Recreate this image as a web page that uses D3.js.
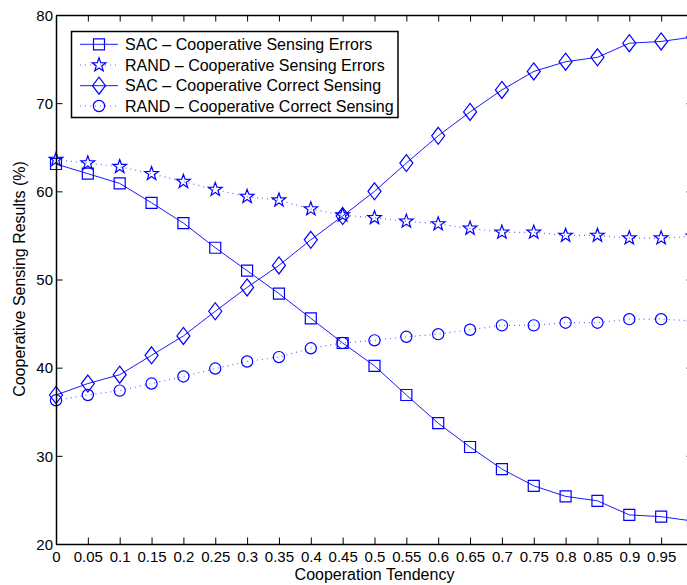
<!DOCTYPE html>
<html><head><meta charset="utf-8">
<script src="https://cdn.jsdelivr.net/npm/d3@7"></script>
<style>
html,body{margin:0;padding:0;background:#fff;overflow:hidden;}
text{font-family:"Liberation Sans",Arial,Helvetica,sans-serif;fill:#000;}
</style></head>
<body>
<svg id="chart" width="687" height="585"></svg>
<script>
const xValues = [0,0.05,0.1,0.15,0.2,0.25,0.3,0.35,0.4,0.45,0.5,0.55,0.6,0.65,0.7,0.75,0.8,0.85,0.9,0.95,1.0];
const sacErrors   = [63.1,62.0,60.9,58.7,56.4,53.6,51.0,48.4,45.6,42.8,40.2,36.9,33.7,31.0,28.5,26.6,25.4,24.9,23.3,23.1,22.6];
const randErrors  = [63.6,63.2,62.8,62.0,61.1,60.2,59.4,59.0,58.0,57.3,57.0,56.6,56.3,55.8,55.35,55.35,55.0,55.0,54.7,54.7,54.9];
const sacCorrect  = [36.9,38.2,39.2,41.4,43.6,46.4,49.1,51.6,54.5,57.2,60.0,63.2,66.3,69.0,71.5,73.6,74.7,75.2,76.8,77.0,77.5];
const randCorrect = [36.3,36.9,37.4,38.2,39.0,39.9,40.7,41.2,42.2,42.8,43.1,43.5,43.8,44.3,44.8,44.8,45.1,45.1,45.5,45.5,45.3];
const seriesNames = ["SAC \u2013 Cooperative Sensing Errors","RAND \u2013 Cooperative Sensing Errors","SAC \u2013 Cooperative Correct Sensing","RAND \u2013 Cooperative Correct Sensing"];
const xTicks = [0,0.05,0.1,0.15,0.2,0.25,0.3,0.35,0.4,0.45,0.5,0.55,0.6,0.65,0.7,0.75,0.8,0.85,0.9,0.95,1];
const xTickLabels = ["0","0.05","0.1","0.15","0.2","0.25","0.3","0.35","0.4","0.45","0.5","0.55","0.6","0.65","0.7","0.75","0.8","0.85","0.9","0.95",""];
const yTicks = [20,30,40,50,60,70,80];
const xLabel = "Cooperation Tendency";
const yLabel = "Cooperative Sensing Results (%)";

const svg = d3.select("#chart");
const L = 56, R = 693, T = 15, B = 544;
const x = d3.scaleLinear().domain([0,1]).range([L,R]);
const y = d3.scaleLinear().domain([20,80]).range([B,T]);
const blue = "#0000ff";

function markerPath(kind){
  if(kind==="square"){ const s=5.5; return `M${-s},${-s}H${s}V${s}H${-s}Z`; }
  if(kind==="circle"){ const r=5.6; return `M${r},0A${r},${r} 0 1,1 ${-r},0A${r},${r} 0 1,1 ${r},0Z`; }
  if(kind==="diamond"){ return "M0,-8.5L6.5,0L0,8.5L-6.5,0Z"; }
  if(kind==="star"){
    const ro=7.2, ri=2.9; let p="";
    for(let i=0;i<10;i++){ const r=i%2?ri:ro; const a=-Math.PI/2+i*Math.PI/5; p+=(i?"L":"M")+(r*Math.cos(a)).toFixed(2)+","+(r*Math.sin(a)).toFixed(2);} return p+"Z";
  }
}

const series = [
  {name:seriesNames[0], vals:sacErrors, dash:null, marker:"square"},
  {name:seriesNames[1], vals:randErrors, dash:"1,4", marker:"star"},
  {name:seriesNames[2], vals:sacCorrect, dash:null, marker:"diamond"},
  {name:seriesNames[3], vals:randCorrect, dash:"1,4", marker:"circle"}
];

const line = d3.line().x((d,i)=>x(xValues[i])).y(d=>y(d));
series.forEach(s=>{
  svg.append("path").attr("d",line(s.vals)).attr("fill","none").attr("stroke",blue)
    .attr("stroke-width",s.dash?1.2:1).attr("stroke-dasharray",s.dash)
    .attr("stroke-opacity",s.dash?0.6:0.9);
  svg.append("g").selectAll("path").data(s.vals).join("path")
    .attr("transform",(d,i)=>`translate(${x(xValues[i])},${y(d)})`)
    .attr("d",markerPath(s.marker)).attr("fill","none").attr("stroke",blue).attr("stroke-width",1.2);
});

const xAxisB = svg.append("g").attr("transform",`translate(0,${B})`)
  .call(d3.axisBottom(x).tickValues(xTicks).tickSizeInner(-6.5).tickSizeOuter(0).tickPadding(7).tickFormat((d,i)=>xTickLabels[i]));
const xAxisT = svg.append("g").attr("transform",`translate(0,${T})`)
  .call(d3.axisTop(x).tickValues(xTicks).tickSizeInner(-6.5).tickSizeOuter(0).tickFormat(""));
const yAxisL = svg.append("g").attr("transform",`translate(${L},0)`)
  .call(d3.axisLeft(y).tickValues(yTicks).tickSizeInner(-6.5).tickSizeOuter(0).tickPadding(3));
const yAxisR = svg.append("g").attr("transform",`translate(${R},0)`)
  .call(d3.axisRight(y).tickValues(yTicks).tickSizeInner(-6.5).tickSizeOuter(0).tickFormat(""));
[xAxisB,xAxisT,yAxisL,yAxisR].forEach(g=>{
  g.select(".domain").attr("stroke","#000").attr("stroke-width",1.5);
  g.selectAll(".tick line").attr("stroke","#000").attr("stroke-width",1);
  g.selectAll("text").style("font-family","'Liberation Sans',Arial,sans-serif").style("font-size","15px").attr("fill","#000");
});
yAxisL.selectAll("text").attr("dy","0.35em");

svg.append("text").attr("x",(L+R)/2).attr("y",580).attr("text-anchor","middle").style("font-size","16px").text(xLabel);
svg.append("text").attr("transform","translate(25,279) rotate(-90)").attr("text-anchor","middle").style("font-size","16px").text(yLabel);

const lg = svg.append("g");
lg.append("rect").attr("x",71.5).attr("y",31.5).attr("width",326.5).attr("height",86).attr("fill","#fff").attr("stroke","#000").attr("stroke-width",1.5);
const rowY = [44.3,65,85.7,106];
series.forEach((s,i)=>{
  lg.append("line").attr("x1",80).attr("x2",118).attr("y1",rowY[i]).attr("y2",rowY[i])
    .attr("stroke",blue).attr("stroke-width",s.dash?1.2:1).attr("stroke-dasharray",s.dash).attr("stroke-opacity",s.dash?0.6:0.9);
  lg.append("path").attr("transform",`translate(99,${rowY[i]})`).attr("d",markerPath(s.marker)).attr("fill","none").attr("stroke",blue).attr("stroke-width",1.2);
  lg.append("text").attr("x",125).attr("y",rowY[i]).attr("dy","0.36em").style("font-size","16px").text(s.name);
});
</script>
</body></html>
